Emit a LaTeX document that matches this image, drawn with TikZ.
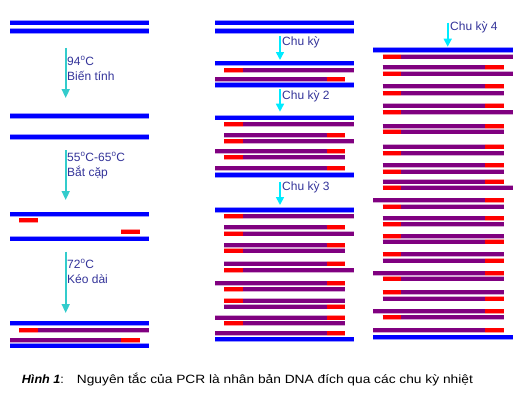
\documentclass[tikz,border=0pt]{standalone}
\usepackage{fontspec}
\setmainfont{Liberation Sans}
\usepackage{xcolor}
\usetikzlibrary{arrows.meta,positioning}

\definecolor{dnablue}{RGB}{0,0,255}
\definecolor{dnapurple}{RGB}{128,0,128}
\definecolor{dnared}{RGB}{255,0,0}
\definecolor{steplabel}{RGB}{51,51,153}
\definecolor{heatarrow}{RGB}{51,204,204}
\definecolor{cyclearrow}{RGB}{0,235,255}

\begin{document}
\begin{tikzpicture}[x=1pt, y=-1pt,
  tmpl/.style={draw=dnablue, line width=4.2pt, preaction={draw=dnablue!40, line width=5.2pt}},
  newdna/.style={draw=dnapurple, line width=4pt, preaction={draw=dnapurple!35, line width=5pt}},
  primer/.style={draw=dnared, line width=4pt, preaction={draw=dnared!40, line width=5pt}},
  heat/.style={draw=heatarrow, line width=1.6pt, -{Triangle[width=8pt,length=9pt]}},
  cycle/.style={draw=cyclearrow, line width=1.6pt, -{Triangle[width=8pt,length=8pt]}},
  lbl/.style={text=steplabel, font=\fontsize{12}{15}\selectfont, align=left, anchor=west, inner sep=0pt}]
  \useasboundingbox (0,0) rectangle (529,396);

  % buoc nhiet do (cot trai)
  \begin{scope}[xshift=10pt]
    \foreach \y in {22.7,31,116,137,214.3,238.7,323.3,345.7}
      \draw[tmpl] (0,\y) -- (139,\y);
    \draw[primer] (9,220.3) -- (27.7,220.3);
    \draw[primer] (111,231.7) -- (130,231.7);
    \draw[primer] (9,330.3) -- (27.7,330.3);
    \draw[newdna] (27.7,330.3) -- (139,330.3);
    \draw[newdna] (0,340) -- (111,340);
    \draw[primer] (111,340) -- (130,340);
  \end{scope}

  \coordinate (h1a) at (65.7,48);
  \coordinate (h1b) at (65.7,98);
  \coordinate (h2a) at (65.7,150);
  \coordinate (h2b) at (65.7,200);
  \coordinate (h3a) at (65.7,251.7);
  \coordinate (h3b) at (65.7,313);
  \draw[heat] (h1a) -- (h1b);
  \draw[heat] (h2a) -- (h2b);
  \draw[heat] (h3a) -- (h3b);
  \node (denat) [lbl] at (67,68.5) {94\textsuperscript{o}C\\Biến tính};
  \node (anneal) [lbl] at (67,165.5) {55\textsuperscript{o}C-65\textsuperscript{o}C\\Bắt cặp};
  \node (extend) [lbl] at (67,271.5) {72\textsuperscript{o}C\\Kéo dài};

  % chu ky 1-3 (cot giua)
  \begin{scope}[xshift=215pt]
    \foreach \y in {22.7,31,63.3,85,117.7,175,210,339.3}
      \draw[tmpl] (0,\y) -- (139.3,\y);
    \foreach \y in {70.3,124.3,141,216,233.7,270} {
      \draw[newdna] (27.7,\y) -- (139.3,\y);
      \draw[primer] (9,\y) -- (27.7,\y);
    }
    \foreach \y in {157.3,250.7,289.3,300.7,323} {
      \draw[newdna] (27.7,\y) -- (130,\y);
      \draw[primer] (9,\y) -- (27.7,\y);
    }
    \foreach \y in {79,151,168.3,283,317.7,333} {
      \draw[newdna] (0,\y) -- (111.7,\y);
      \draw[primer] (111.7,\y) -- (130,\y);
    }
    \foreach \y in {135,227.3,245,263.7,306.7} {
      \draw[newdna] (9,\y) -- (111.7,\y);
      \draw[primer] (111.7,\y) -- (130,\y);
    }
  \end{scope}

  \coordinate (c1a) at (280,36);
  \coordinate (c1b) at (280,60);
  \coordinate (c2a) at (280,89);
  \coordinate (c2b) at (280,111.7);
  \coordinate (c3a) at (280,181.7);
  \coordinate (c3b) at (280,205);
  \draw[cycle] (c1a) -- (c1b);
  \draw[cycle] (c2a) -- (c2b);
  \draw[cycle] (c3a) -- (c3b);
  \node (cyc1) [lbl] at (282,42) {Chu kỳ};
  \node (cyc2) [lbl] at (282,96) {Chu kỳ 2};
  \node (cyc3) [lbl] at (282,187.5) {Chu kỳ 3};

  % chu ky 4 (cot phai)
  \begin{scope}[xshift=373.3pt]
    \foreach \y in {50,337.3}
      \draw[tmpl] (0,\y) -- (139.4,\y);
    \foreach \y in {56.7,73.7,112,187.7} {
      \draw[newdna] (27.7,\y) -- (139.4,\y);
      \draw[primer] (9.4,\y) -- (27.7,\y);
    }
    \foreach \y in {93,131.7,153,171.7,206.7,224,236,254,278.7,292.3,317.3} {
      \draw[newdna] (27.7,\y) -- (130.4,\y);
      \draw[primer] (9.4,\y) -- (27.7,\y);
    }
    \foreach \y in {200.3,273.3,311,330.3} {
      \draw[newdna] (0,\y) -- (111.7,\y);
      \draw[primer] (111.7,\y) -- (130.4,\y);
    }
    \foreach \y in {67.3,86.3,105.7,126,146.7,165.3,181.7,218,241.7,260.7,298.7} {
      \draw[newdna] (9.4,\y) -- (111.7,\y);
      \draw[primer] (111.7,\y) -- (130.4,\y);
    }
  \end{scope}

  \coordinate (c4a) at (447.7,22.7);
  \coordinate (c4b) at (447.7,46.7);
  \draw[cycle] (c4a) -- (c4b);
  \node (cyc4) [lbl] at (450,27.5) {Chu kỳ 4};

  % chu thich
  \node (fig) [anchor=west, inner sep=0pt, font=\fontsize{12}{14}\selectfont] at (21.7,379.5) {\scalebox{1.05}[1]{\textbf{\textit{Hình 1}}:}};
  \node (caption) [anchor=west, inner sep=0pt, font=\fontsize{12}{14}\selectfont] at (76.7,379.5) {\resizebox{396pt}{\height}{Nguyên tắc của PCR là nhân bản DNA đích qua các chu kỳ nhiệt}};
\end{tikzpicture}
\end{document}
